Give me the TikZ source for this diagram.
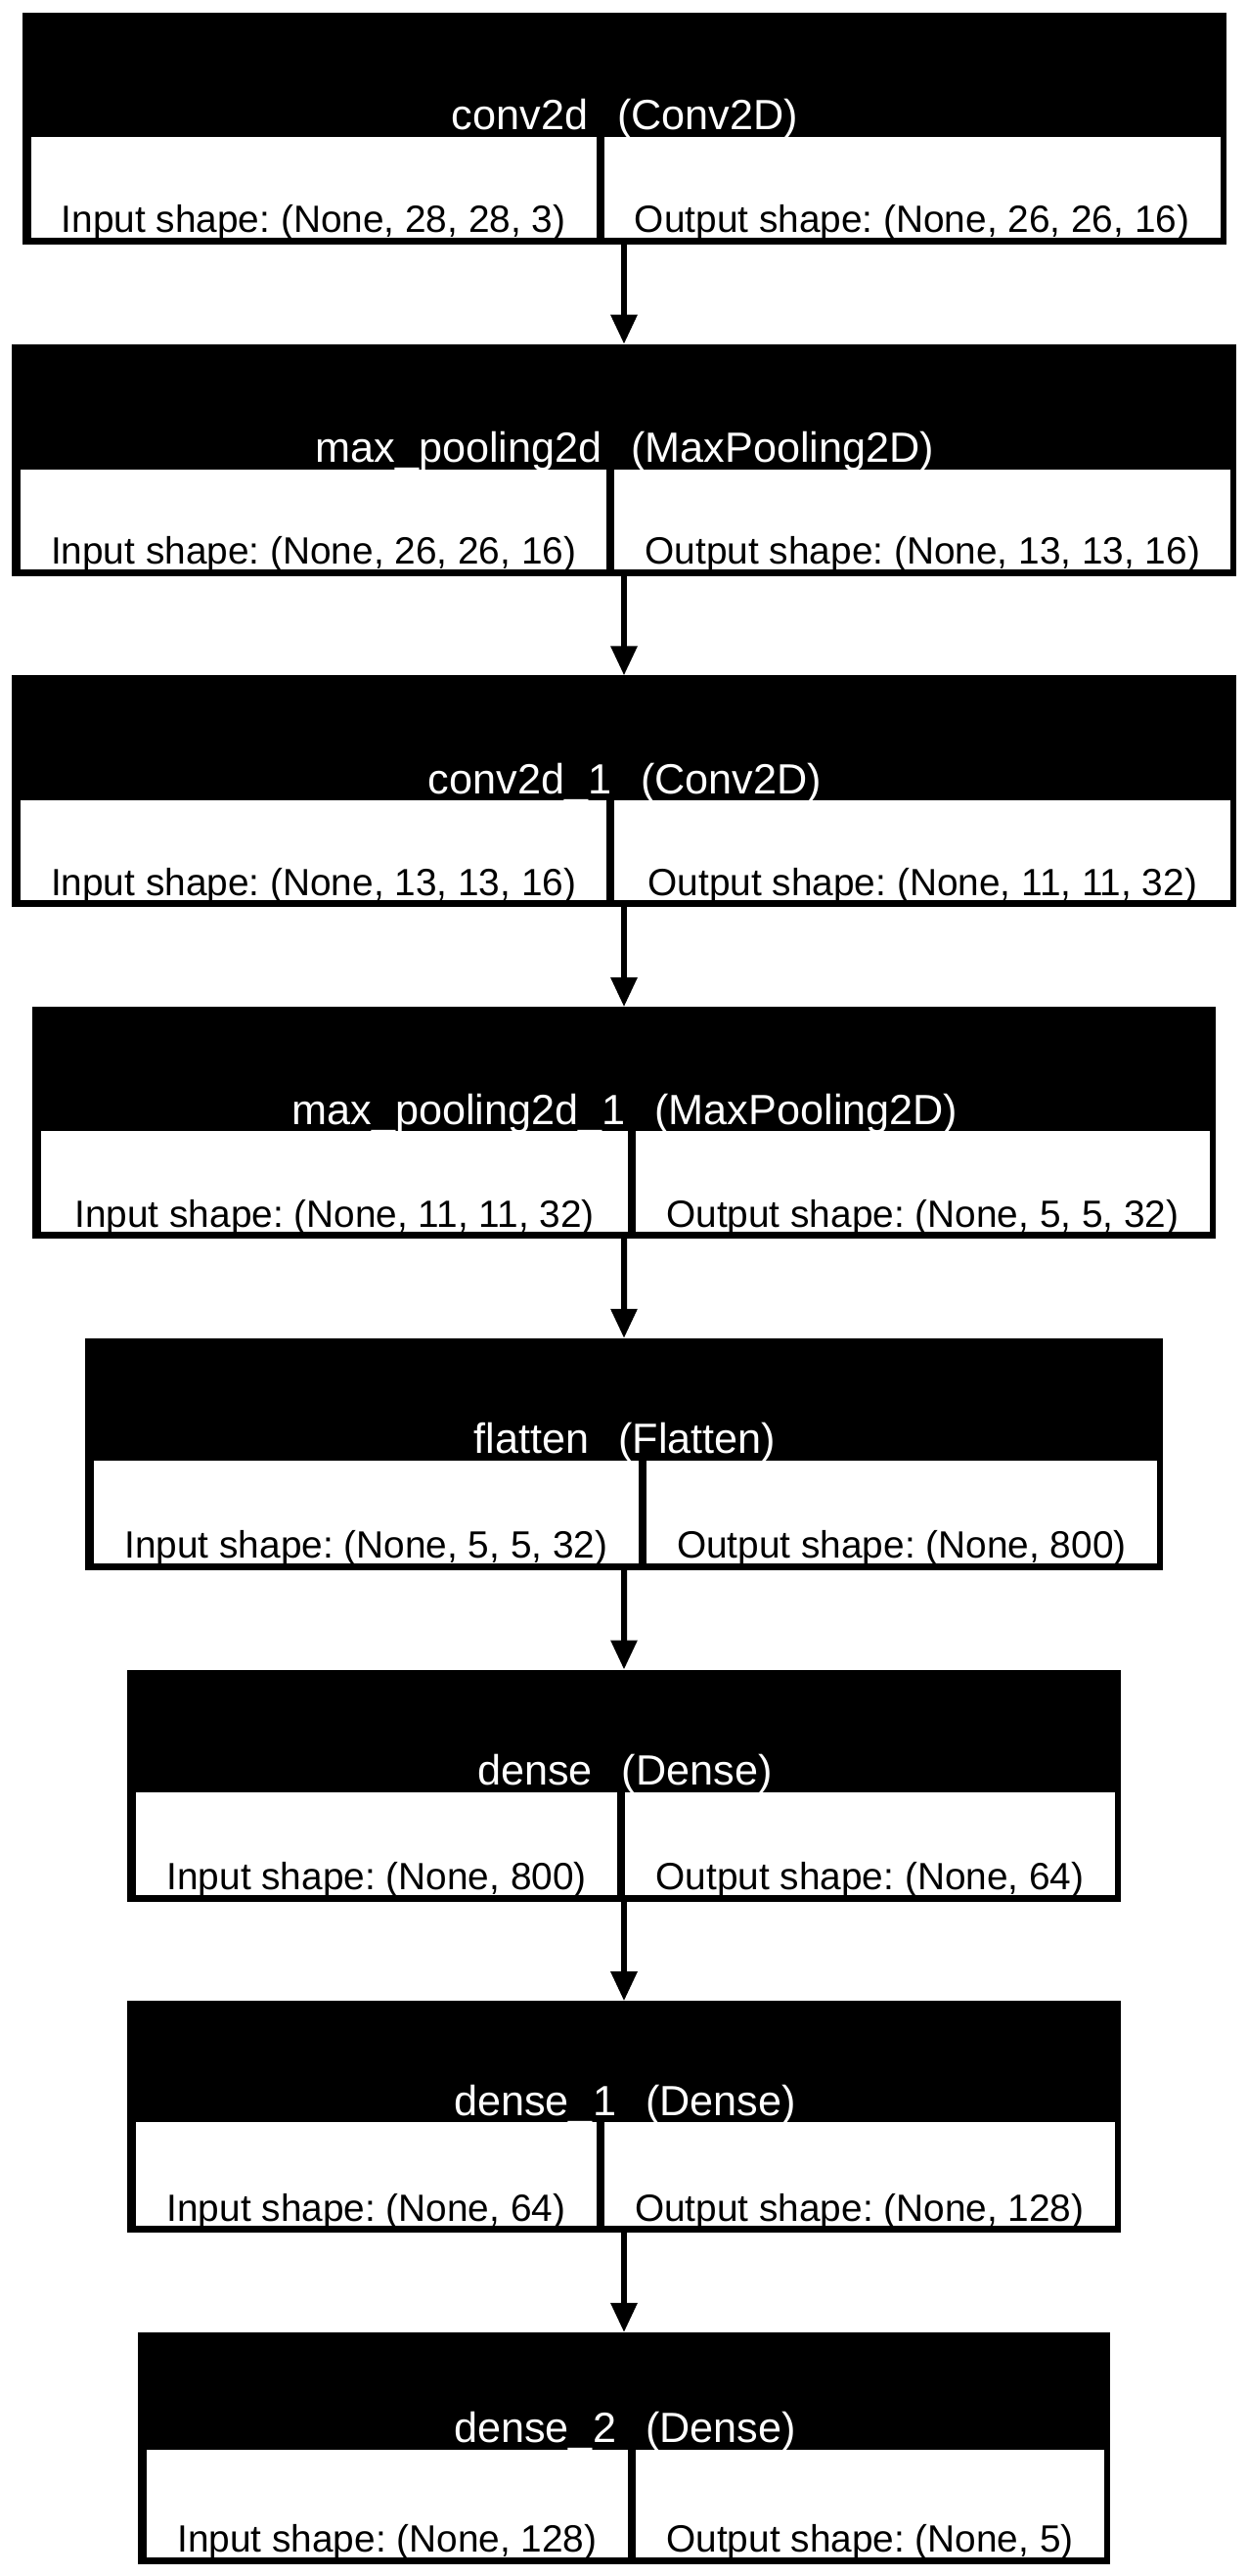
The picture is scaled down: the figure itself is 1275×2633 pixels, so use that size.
\documentclass[tikz,border=0pt]{standalone}
\usepackage{fontspec}
\setmainfont{Liberation Sans}
\usetikzlibrary{arrows.meta}
\frenchspacing
\tikzset{
  blk/.style={fill=black, draw=none, inner sep=0pt, outer sep=0pt, anchor=north west},
  hdrtxt/.style={text=white, inner sep=0pt, anchor=base, font=\fontsize{21.6}{26}\selectfont\frenchspacing},
  celltxt/.style={text=black, inner sep=0pt, anchor=base, font=\fontsize{19.4}{23}\selectfont\frenchspacing},
  flow/.style={line width=3pt, -{Triangle[width=13pt,length=15pt]}},
}
% #1 name, #2 top, #3 left cell width, #4 right cell width, #5 header height,
% #6 layer name, #7 class, #8 input text, #9 output text
\newcommand{\lyr}[9]{%
  \pgfmathsetmacro{\lyrW}{9+#3+8+#4+6}%
  \pgfmathsetmacro{\lyrX}{638-\lyrW/2}%
  \pgfmathsetmacro{\lyrWpt}{\lyrW*0.5}%
  \node[blk, minimum width=\lyrWpt pt, minimum height=118.5pt] (#1) at (\lyrX,#2) {};
  \fill[white] (\lyrX+9,#2+#5) rectangle (\lyrX+9+#3,#2+230);
  \fill[white] (\lyrX+9+#3+8,#2+#5) rectangle (\lyrX+9+#3+8+#4,#2+230);
  \node[hdrtxt] (#1-title) at (639,#2+#5-7) {#6\hspace{15pt}#7};
  \node[celltxt] (#1-in) at (\lyrX+9+#3/2,#2+225) {#8};
  \node[celltxt] (#1-out) at (\lyrX+9+#3+8+#4/2,#2+225) {#9};
}
\begin{document}
\begin{tikzpicture}[x=0.5pt,y=-0.5pt]
\fill[white] (0,0) rectangle (1275,2633);
\useasboundingbox (0,0) rectangle (1275,2633);
\lyr{b1}{13}{578.2}{629.8}{127}{conv2d}{(Conv2D)}{Input shape: (None, 28, 28, 3)}{Output shape: (None, 26, 26, 16)}
\lyr{b2}{351.7}{599.7}{629.8}{128}{max\_pooling2d}{(MaxPooling2D)}{Input shape: (None, 26, 26, 16)}{Output shape: (None, 13, 13, 16)}
\lyr{b3}{690.4}{599.7}{629.8}{128}{conv2d\_1}{(Conv2D)}{Input shape: (None, 13, 13, 16)}{Output shape: (None, 11, 11, 32)}
\lyr{b4}{1029.1}{599.7}{586.8}{127}{max\_pooling2d\_1}{(MaxPooling2D)}{Input shape: (None, 11, 11, 32)}{Output shape: (None, 5, 5, 32)}
\lyr{b5}{1367.8}{556.7}{522.2}{125}{flatten}{(Flatten)}{Input shape: (None, 5, 5, 32)}{Output shape: (None, 800)}
\lyr{b6}{1706.5}{492.1}{500.7}{125}{dense}{(Dense)}{Input shape: (None, 800)}{Output shape: (None, 64)}
\lyr{b7}{2045.2}{470.6}{522.2}{124}{dense\_1}{(Dense)}{Input shape: (None, 64)}{Output shape: (None, 128)}
\lyr{b8}{2383.9}{492.1}{479.2}{120}{dense\_2}{(Dense)}{Input shape: (None, 128)}{Output shape: (None, 5)}
\draw[flow] (b1.south) -- (b2.north);
\draw[flow] (b2.south) -- (b3.north);
\draw[flow] (b3.south) -- (b4.north);
\draw[flow] (b4.south) -- (b5.north);
\draw[flow] (b5.south) -- (b6.north);
\draw[flow] (b6.south) -- (b7.north);
\draw[flow] (b7.south) -- (b8.north);
\end{tikzpicture}
\end{document}
